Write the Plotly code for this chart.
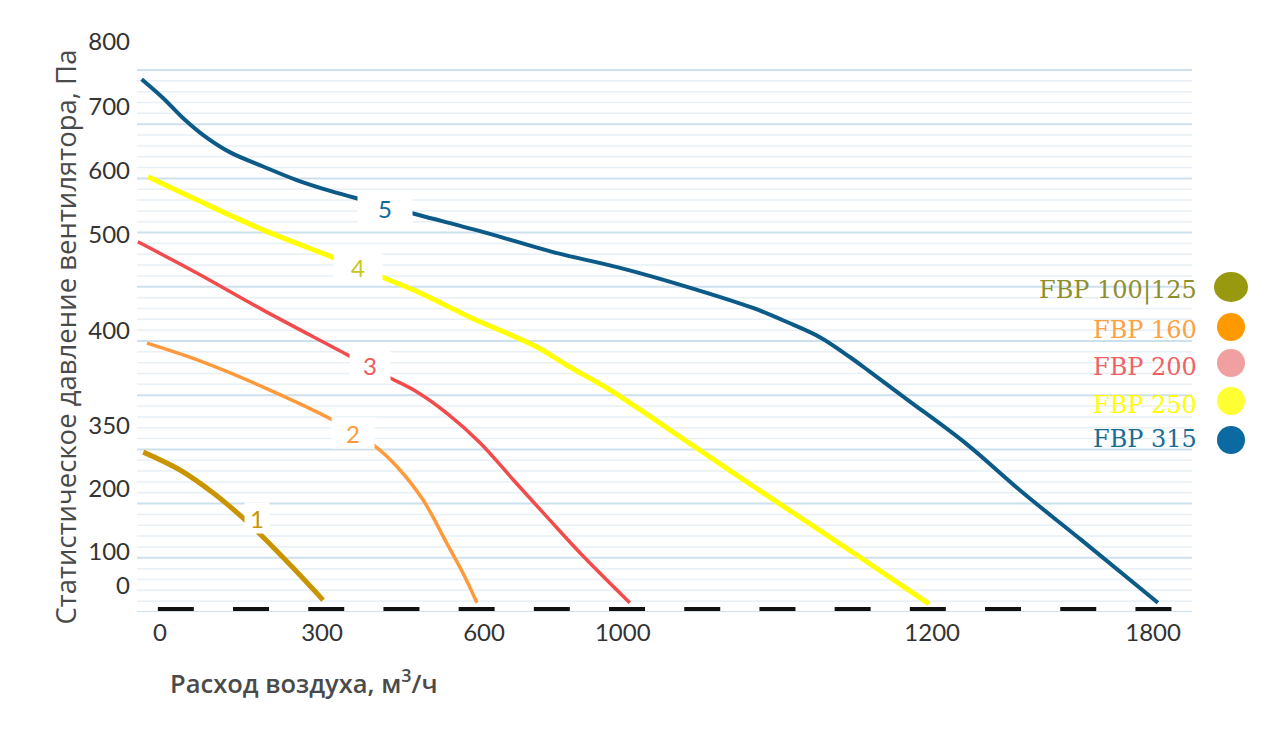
import plotly.graph_objects as go

# ── Data (linear plot units, x ~ m3/h, y ~ Pa) ────────────────────────────────

FLOW_1 = [-31, 37, 98, 152, 185, 241, 302]
PRES_1 = [295, 262, 220, 175, 144, 87, 22]

FLOW_2 = [-24, 69, 191, 324, 398, 439, 487, 531, 561, 587]
PRES_2 = [496, 465, 415, 352, 306, 268, 207, 127, 72, 17]

FLOW_3 = [-41, 69, 191, 348, 420, 476, 531, 593, 654, 717, 778, 870]
PRES_3 = [683, 625, 557, 474, 435, 406, 367, 312, 244, 175, 109, 17]

FLOW_4 = [-22, 69, 191, 324, 411, 481, 574, 698, 759, 828, 993, 1100, 1206, 1313, 1424]
PRES_4 = [803, 760, 705, 653, 618, 589, 544, 489, 452, 413, 303, 231, 161, 90, 15]

FLOW_5 = [-34, 6, 43, 80, 130, 191, 253, 315, 376, 481, 606, 728, 852, 976, 1098,
          1161, 1222, 1278, 1315, 1385, 1491, 1598, 1706, 1848]
PRES_5 = [983, 948, 911, 880, 848, 822, 797, 777, 760, 732, 699, 664, 635, 600, 561,
          535, 507, 470, 443, 391, 312, 220, 133, 17]

CURVE_LABELS = ["1", "2", "3", "4", "5"]
LABEL_FLOW = [180, 357, 389, 367, 417]
LABEL_PRES = [173, 330, 456, 637, 745]

LEGEND_NAMES = ["FBP 100|125", "FBP 160", "FBP 200", "FBP 250", "FBP 315"]

X_TICK_VALS = [0, 300, 600, 857, 1430, 1839]
X_TICK_TEXT = ["0", "300", "600", "1000", "1200", "1800"]
Y_TICK_VALS = [48, 111, 227, 343, 520, 697, 814, 932, 1052]
Y_TICK_TEXT = ["0", "100", "200", "350", "400", "500", "600", "700", "800"]

BASE_FLOW = [-4, 1874]   # black dashed base line
BASE_PRES = [5.5, 5.5]

# ── Styling ───────────────────────────────────────────────────────────────────

LINE_COLORS = ["#c99400", "#ff9a3c", "#f24b4b", "#ffff00", "#0b5a88"]
LINE_WIDTHS = [5, 3.5, 3.5, 5, 4]
NUM_COLORS = ["#c99400", "#ff9a3c", "#f05a5a", "#c8c81e", "#0b6a9a"]
NUM_BOX_W = [22, 40, 38, 46, 52]

LEG_TEXT_COLORS = ["#8e8e2c", "#ff9f40", "#f06262", "#ffff00", "#176c94"]
LEG_DOT_COLORS = ["#999910", "#ff9900", "#f0a0a0", "#ffff33", "#0b6aa2"]
LEG_TEXT_Y = [290, 330, 367, 405, 439]      # pixel rows in the picture
LEG_DOT_Y = [287, 327, 363, 401, 440]

PAGE_PAD = 8                                 # body margin of the html page
W, H = 1275, 752
L, T = 137 - PAGE_PAD, 30 - PAGE_PAD
R = W - (1192 - PAGE_PAD)
B = H - (612 - PAGE_PAD)
PW, PH = W - L - R, H - T - B
X_RANGE = [-42.6, -42.6 + PW / 0.54]
Y_RANGE = [0, PH / 0.542]

GRID_MAJOR = list(range(0, 1001, 100))
GRID_MINOR = [v for v in range(0, 1001, 20) if v % 100]


def px_x(px):
    return (px - PAGE_PAD - L) / PW


def px_y(py):
    return (H - B - (py - PAGE_PAD)) / PH


flows = [FLOW_1, FLOW_2, FLOW_3, FLOW_4, FLOW_5]
press = [PRES_1, PRES_2, PRES_3, PRES_4, PRES_5]

fig = go.Figure()

for i in range(5):
    fig.add_trace(go.Scatter(
        x=flows[i], y=press[i], mode="lines",
        line=dict(color=LINE_COLORS[i], width=LINE_WIDTHS[i], shape="spline", smoothing=1.0),
        showlegend=False, hoverinfo="skip",
    ))

fig.add_trace(go.Scatter(
    x=BASE_FLOW, y=BASE_PRES, mode="lines",
    line=dict(color="#111111", width=4, dash="36px,39.2px"),
    showlegend=False, hoverinfo="skip",
))

shapes = []
for v in GRID_MINOR:
    shapes.append(dict(type="line", xref="paper", x0=0, x1=1, yref="y", y0=v, y1=v,
                       line=dict(color="#e7f0f6", width=1.5), layer="below"))
for v in GRID_MAJOR:
    shapes.append(dict(type="line", xref="paper", x0=0, x1=1, yref="y", y0=v, y1=v,
                       line=dict(color="#cde0ed", width=2), layer="below"))

annotations = []
# curve numbers sit in white boxes that break the lines
for i in range(5):
    annotations.append(dict(
        x=LABEL_FLOW[i], y=LABEL_PRES[i], xref="x", yref="y", text=CURVE_LABELS[i],
        showarrow=False, bgcolor="white", width=NUM_BOX_W[i], height=28,
        font=dict(family="Lato", size=24, color=NUM_COLORS[i]),
    ))

# hand-made legend: text on the left, dot on the right
for i in range(5):
    annotations.append(dict(
        x=px_x(1199), y=px_y(LEG_TEXT_Y[i]), xref="paper", yref="paper",
        xanchor="right", yanchor="middle", text=LEGEND_NAMES[i], showarrow=False,
        font=dict(family="DejaVu Serif", size=24, color=LEG_TEXT_COLORS[i]),
    ))
    rx = 17 if i == 0 else 14
    ry = 15 if i == 0 else 14
    shapes.append(dict(
        type="circle", xref="paper", yref="paper",
        x0=px_x(1231 - rx), x1=px_x(1231 + rx),
        y0=px_y(LEG_DOT_Y[i] + ry), y1=px_y(LEG_DOT_Y[i] - ry),
        fillcolor=LEG_DOT_COLORS[i], line=dict(width=0),
    ))

annotations.append(dict(
    x=px_x(44), y=px_y(337), xref="paper", yref="paper", textangle=-90,
    text="Статистическое давление вентилятора, Па", showarrow=False,
    font=dict(family="Open Sans", size=27.5, color="#4a4a4a", weight=500),
))
annotations.append(dict(
    x=px_x(168), y=px_y(702), xref="paper", yref="paper", xanchor="left",
    text="Расход воздуха, м<sup>3</sup>/ч", showarrow=False,
    font=dict(family="Open Sans", size=25.5, color="#4a4a4a", weight=600),
))

fig.update_layout(
    width=W, height=H,
    margin=dict(l=L, r=R, t=T, b=B),
    paper_bgcolor="white", plot_bgcolor="white",
    shapes=shapes, annotations=annotations,
    xaxis=dict(range=X_RANGE, showgrid=False, zeroline=False, showline=False,
               tickmode="array", tickvals=X_TICK_VALS, ticktext=X_TICK_TEXT,
               ticklabelstandoff=4,
               tickfont=dict(family="Lato", size=24, color="#333333")),
    yaxis=dict(range=Y_RANGE, showgrid=False, zeroline=False, showline=False,
               tickmode="array", tickvals=Y_TICK_VALS, ticktext=Y_TICK_TEXT,
               ticklabelstandoff=6,
               tickfont=dict(family="Lato", size=24, color="#333333")),
)

fig.write_html("out.html")
